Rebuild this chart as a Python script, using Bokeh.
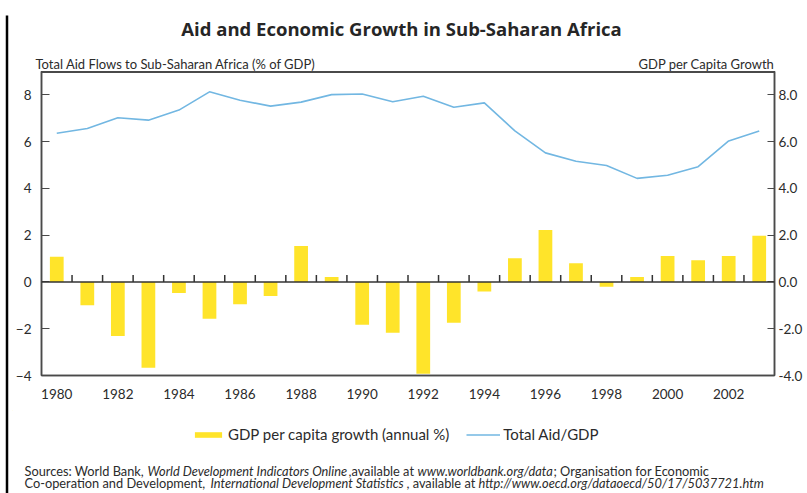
from bokeh.plotting import figure
from bokeh.layouts import column, row
from bokeh.models import (Range1d, LinearAxis, FixedTicker, PrintfTickFormatter, Span,
                          Legend, LegendItem)
from bokeh.core.properties import value
from bokeh.embed import file_html
from bokeh.resources import INLINE

# ---- data ----
years = list(range(1980, 2004))
aid_gdp = [6.36, 6.56, 7.02, 6.92, 7.35, 8.13, 7.77, 7.52, 7.69, 8.01, 8.04, 7.71,
           7.94, 7.47, 7.66, 6.46, 5.52, 5.16, 4.98, 4.43, 4.56, 4.93, 6.03, 6.46]
gdp_growth = [1.08, -1.00, -2.31, -3.67, -0.47, -1.57, -0.95, -0.60, 1.54, 0.21, -1.83, -2.17,
              -3.92, -1.74, -0.41, 1.01, 2.22, 0.80, -0.20, 0.21, 1.11, 0.93, 1.11, 1.98]
year_ticks = [1980, 1982, 1984, 1986, 1988, 1990, 1992, 1994, 1996, 1998, 2000, 2002]
left_ticks = [-4, -2, 0, 2, 4, 6, 8]
right_ticks = [-4, -2, 0, 2, 4, 6, 8]

title_text = "Aid and Economic Growth in Sub-Saharan Africa"
left_title = "Total Aid Flows to Sub-Saharan Africa (% of GDP)"
right_title = "GDP per Capita Growth"
bar_label = "GDP per capita growth (annual %)"
line_label = "Total Aid/GDP"
src_line1 = [("Sources: World Bank,", "normal"),
             ("World Development Indicators Online", "italic"),
             (",available at", "normal"),
             ("www.worldbank.org/data", "italic"),
             ("; Organisation for Economic", "normal")]
src_line2 = [("Co-operation and Development,", "normal"),
             ("International Development Statistics", "italic"),
             (", available at", "normal"),
             ("http://www.oecd.org/dataoecd/50/17/5037721.htm", "italic")]

FONT = "Lato"
TFONT = "Open Sans"
TXT = "#2b2b2b"
FRAME = "#4a4a4a"
BAR = "#FFE42A"
LINE = "#72B7E2"

W, H = 807, 493
STRIP = 12
TOP_H = 71
MAIN_H = 339
BOT_H = H - TOP_H - MAIN_H


def no_align(f):
    if "frame_align" in f.properties():
        f.frame_align = False
    return f


def blank(width, height, x0, x1, y0, y1):
    f = figure(width=width, height=height, output_backend="svg", toolbar_location=None,
               x_range=Range1d(x0, x1), y_range=Range1d(y0, y1),
               x_axis_type=None, y_axis_type=None,
               min_border=0, outline_line_color=None,
               background_fill_color="white", border_fill_color="white")
    f.grid.visible = False
    return no_align(f)


def txt(f, x, y, t, size, style="normal", align="left", color=TXT, font=FONT):
    f.text(x=[x], y=[y], text=[t], text_font=value(font), text_font_size=size,
           text_font_style=style, text_align=align, text_baseline="alphabetic",
           text_color=color)


# ---- left page border strip ----
strip = blank(STRIP, H, 0, STRIP, H, 0)
strip.segment(x0=[6.5], y0=[15], x1=[6.5], y1=[H], line_color="black", line_width=2.5)

# ---- top: title and axis titles ----
top = blank(W - STRIP, TOP_H, STRIP, W, TOP_H, 0)
txt(top, 401, 28, title_text, "18.5px", "bold", "center", "#262626", TFONT)
txt(top, 35, 63, left_title, "13px")
txt(top, 774, 63, right_title, "13px", align="right")

# ---- main chart ----
p = figure(width=W - STRIP, height=MAIN_H, output_backend="svg", toolbar_location=None,
           x_range=Range1d(1979.5, 2003.5), y_range=Range1d(-4, 9),
           min_border_left=40 - STRIP, min_border_right=33, min_border_top=0,
           min_border_bottom=MAIN_H - 304,
           background_fill_color="white", border_fill_color="white")
no_align(p)
p.extra_y_ranges = {"growth": Range1d(-4, 9)}
p.xgrid.visible = False
p.ygrid.visible = False
p.outline_line_color = FRAME
p.outline_line_width = 1.5

xa = p.xaxis[0]
xa.ticker = FixedTicker(ticks=year_ticks)
xa.major_tick_line_color = None
xa.minor_tick_line_color = None
xa.axis_line_color = FRAME
xa.axis_line_width = 1.5
xa.major_label_standoff = 7
xa.major_label_text_font = FONT
xa.major_label_text_font_size = "13.5px"
xa.major_label_text_color = TXT

ya = p.yaxis[0]
ya.ticker = FixedTicker(ticks=left_ticks)
ya.major_tick_in = 8
ya.major_tick_out = 0
ya.minor_tick_line_color = None
ya.axis_line_color = FRAME
ya.axis_line_width = 1.5
ya.major_tick_line_color = FRAME
ya.major_tick_line_width = 1.2
ya.major_label_standoff = 10
ya.major_label_text_font = FONT
ya.major_label_text_font_size = "13.5px"
ya.major_label_text_color = TXT

ra = LinearAxis(y_range_name="growth", ticker=FixedTicker(ticks=right_ticks),
                formatter=PrintfTickFormatter(format="%.1f"))
ra.major_tick_in = 7
ra.major_tick_out = 0
ra.minor_tick_line_color = None
ra.axis_line_color = FRAME
ra.axis_line_width = 1.5
ra.major_tick_line_color = FRAME
ra.major_tick_line_width = 1.2
ra.major_label_standoff = 4
ra.major_label_text_font = FONT
ra.major_label_text_font_size = "13.5px"
ra.major_label_text_color = TXT
p.add_layout(ra, "right")

p.vbar(x=years, top=gdp_growth, width=0.45, fill_color=BAR, line_color=None,
       y_range_name="growth")
p.line(x=years, y=aid_gdp, line_color=LINE, line_width=1.6)

p.add_layout(Span(location=0, dimension="width", line_color="#333333", line_width=1.5))
p.add_layout(Span(location=9, dimension="width", line_color=FRAME, line_width=3))
bounds = [y + 0.5 for y in years[:-1]]
p.segment(x0=bounds, y0=[0] * len(bounds), x1=bounds, y1=[0.3] * len(bounds),
          line_color="#333333", line_width=1.5)

# ---- bottom: legend and sources ----
bot_y0 = TOP_H + MAIN_H
bot = blank(W - STRIP, BOT_H, STRIP, W, H, bot_y0)
# legend sample glyphs (kept off-screen, only their legend swatches show)
lb = bot.vbar(x=[0], top=[0], width=1, fill_color=BAR, line_color=None)
ll = bot.line(x=[0, 1], y=[0, 0], line_color=LINE, line_width=1.6)
legend = Legend(items=[LegendItem(label=bar_label, renderers=[lb]),
                       LegendItem(label=line_label, renderers=[ll])],
                location=(191 - STRIP, 50), orientation="horizontal",
                glyph_width=34, glyph_height=7, label_height=14, label_standoff=3,
                spacing=17, padding=0, margin=0,
                border_line_color=None, background_fill_alpha=0,
                label_text_font=FONT, label_text_font_size="15px", label_text_color=TXT)
bot.add_layout(legend, "center")

x1 = [24, 147, 348, 417, 553]
x2 = [24, 210, 406, 478]
for x, (t, s) in zip(x1, src_line1):
    txt(bot, x, 470, t, "12.8px", s)
for x, (t, s) in zip(x2, src_line2):
    txt(bot, x, 482, t, "12.8px", s)

layout = row(strip, column(top, p, bot, spacing=0), spacing=0)
open("out.html", "w").write(file_html(layout, INLINE))
